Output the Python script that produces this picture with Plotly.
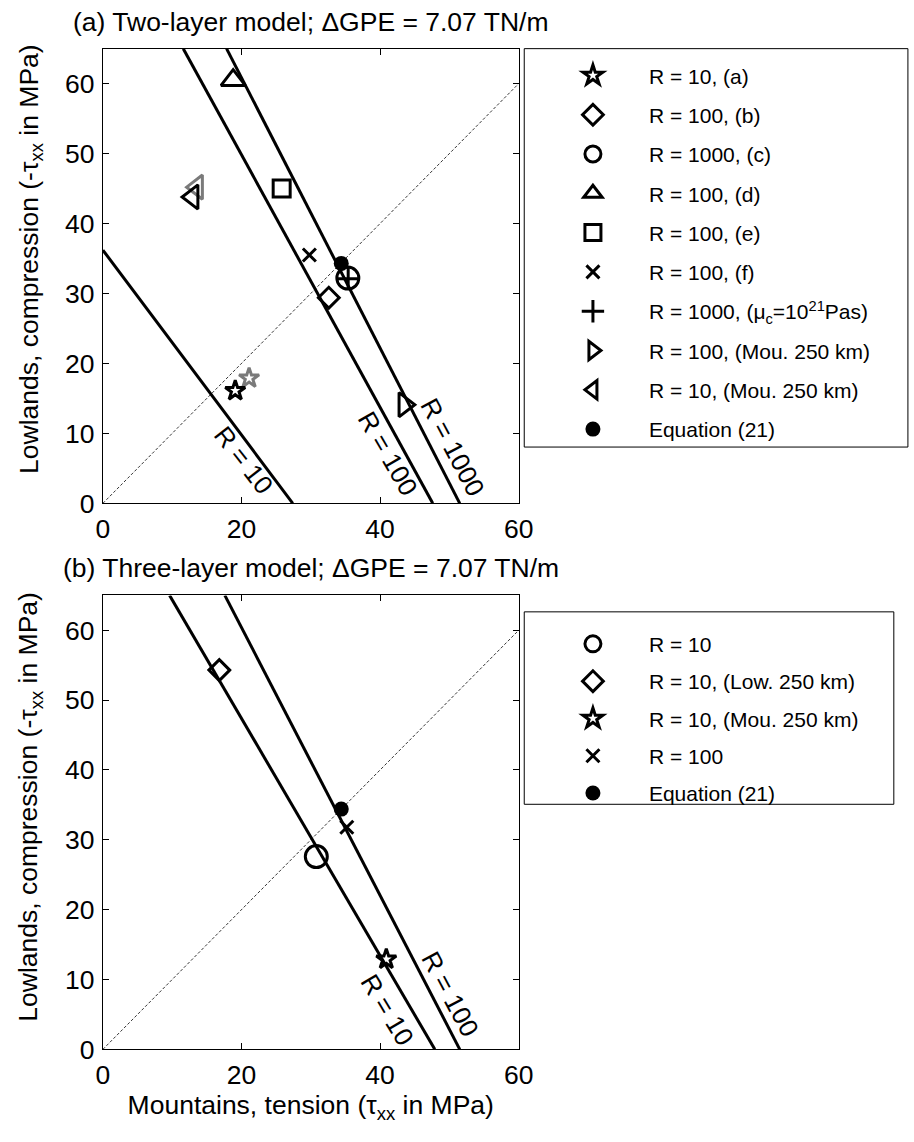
import plotly.graph_objects as go

# ---------------- Panel (a): two-layer model ----------------
a_line_names = ["R = 10", "R = 100", "R = 1000"]
a_line_x = [[0.0, 27.4], [11.6, 47.6], [17.85, 51.5]]
a_line_y = [[36.2, 0.0], [65.0, 0.0], [65.0, 0.0]]
a_label_x = [20.3, 41.2, 50.5]
a_label_y = [6.2, 7.1, 8.1]
a_label_angle = [52, 60, 62]

a_names = ["R = 10, (a)", "R = 100, (b)", "R = 1000, (c)", "R = 100, (d)", "R = 100, (e)",
           "R = 100, (f)", "R = 1000, (μ<sub>c</sub>=10<sup>21</sup>Pas)",
           "R = 100, (Mou. 250 km)", "R = 10, (Mou. 250 km)", "Equation (21)"]
a_x = [19.1, 32.6, 35.35, 18.8, 25.8, 29.8, 35.4, 43.5, 12.95, 34.4]
a_y = [16.1, 29.4, 32.2, 60.5, 45.0, 35.5, 32.1, 14.1, 43.8, 34.3]
a_symbols = ["star-open", "diamond-open", "circle-open", "triangle-up-open", "square-open",
             "x-thin-open", "cross-thin-open", "triangle-right-open", "triangle-left-open", "circle"]
a_sizes = [15, 16, 22, 21, 17, 13, 16, 21, 21, 15]

# grey (unlabelled) companion runs in panel (a)
a_grey_x = [21.1, 13.6]
a_grey_y = [17.9, 45.2]
a_grey_symbols = ["star-open", "triangle-left-open"]
a_grey_sizes = [15, 21]

# ---------------- Panel (b): three-layer model ----------------
b_line_names = ["R = 10", "R = 100"]
b_line_x = [[9.63, 47.9], [17.6, 51.5]]
b_line_y = [[65.0, 0.0], [65.0, 0.0]]
b_label_x = [41.1, 50.1]
b_label_y = [5.7, 7.9]
b_label_angle = [59, 62]

b_names = ["R = 10", "R = 10, (Low. 250 km)", "R = 10, (Mou. 250 km)", "R = 100", "Equation (21)"]
b_x = [30.8, 16.8, 40.9, 35.2, 34.4]
b_y = [27.6, 54.3, 12.9, 31.8, 34.4]
b_symbols = ["circle-open", "diamond-open", "star-open", "x-thin-open", "circle"]
b_sizes = [22, 16, 15, 13, 15]

diag = [0, 60]
x_ticks = [0, 20, 40, 60]
y_ticks = [0, 10, 20, 30, 40, 50, 60]

FONT = "Liberation Sans, Arial, Helvetica, sans-serif"
FS = 26.5
fig = go.Figure()


def add_panel(xa, ya, lx, ly, markers_x, markers_y, names, symbols, sizes, legend_name):
    fig.add_trace(go.Scatter(x=diag, y=diag, mode="lines", xaxis=xa, yaxis=ya,
                             line=dict(color="black", width=0.8, dash="3px,2px"),
                             showlegend=False, hoverinfo="skip"))
    for xs, ys in zip(lx, ly):
        fig.add_trace(go.Scatter(x=xs, y=ys, mode="lines", xaxis=xa, yaxis=ya,
                                 line=dict(color="black", width=3),
                                 showlegend=False, hoverinfo="skip"))
    for i, (mx, my, nm, sy, sz) in enumerate(zip(markers_x, markers_y, names, symbols, sizes)):
        fig.add_trace(go.Scatter(x=[mx], y=[my], mode="markers", name=nm, xaxis=xa, yaxis=ya,
                                 legend=legend_name, legendgroup=legend_name + str(i),
                                 marker=dict(symbol=sy, size=sz, color="black",
                                             line=dict(color="black", width=3 if sy != "circle" else 0))))


# grey markers first so black ones draw on top
for gx, gy, gs, gz in zip(a_grey_x, a_grey_y, a_grey_symbols, a_grey_sizes):
    fig.add_trace(go.Scatter(x=[gx], y=[gy], mode="markers", xaxis="x", yaxis="y",
                             showlegend=False,
                             marker=dict(symbol=gs, size=gz, color="#7a7a7a",
                                         line=dict(color="#7a7a7a", width=3))))

add_panel("x", "y", a_line_x, a_line_y, a_x, a_y, a_names, a_symbols, a_sizes, "legend")
add_panel("x2", "y2", b_line_x, b_line_y, b_x, b_y, b_names, b_symbols, b_sizes, "legend2")

axis_common = dict(showline=True, linecolor="black", linewidth=1, mirror="ticks",
                   ticks="inside", ticklen=6, tickcolor="black", showgrid=False,
                   zeroline=False, ticklabelstandoff=2,
                   tickfont=dict(family=FONT, size=FS, color="black"))

ytitle = "Lowlands, compression (-τ<sub>xx</sub> in MPa)"
xtitle = "Mountains, tension (τ<sub>xx</sub> in MPa)"

fig.update_layout(
    width=914, height=1142, margin=dict(l=0, r=0, t=0, b=0),
    paper_bgcolor="white", plot_bgcolor="white",
    font=dict(family=FONT, color="black"),
    xaxis=dict(domain=[0.1075, 0.5736], range=[0, 60], tickvals=x_ticks, anchor="y", **axis_common),
    yaxis=dict(domain=[0.5534, 0.9568], range=[0, 65], tickvals=y_ticks, anchor="x", **axis_common),
    xaxis2=dict(domain=[0.1075, 0.5736], range=[0, 60], tickvals=x_ticks, anchor="y2",
                title=dict(text=xtitle, font=dict(family=FONT, size=FS), standoff=2), **axis_common),
    yaxis2=dict(domain=[0.0689, 0.4717], range=[0, 65], tickvals=y_ticks, anchor="x2", **axis_common),
    legend=dict(x=543 / 914, y=1 - 56 / 1142, xanchor="left", yanchor="top",
                bgcolor="rgba(0,0,0,0)", borderwidth=0, font=dict(family=FONT, size=21),
                itemwidth=102, tracegroupgap=9, traceorder="grouped"),
    legend2=dict(x=543 / 914, y=1 - 632 / 1142, xanchor="left", yanchor="top",
                 bgcolor="rgba(0,0,0,0)", borderwidth=0, font=dict(family=FONT, size=21),
                 itemwidth=102, tracegroupgap=7, traceorder="grouped"),
    shapes=[
        dict(type="rect", xref="paper", yref="paper", x0=530 / 914, x1=1.01,
             y0=1 - 453 / 1142, y1=1 - 49.3 / 1142, line=dict(color="black", width=1)),
        dict(type="rect", xref="paper", yref="paper", x0=530 / 914, x1=908.7 / 914,
             y0=1 - 815 / 1142, y1=1 - 620 / 1142, line=dict(color="black", width=1)),
    ],
)

annotations = [
    dict(text="(a) Two-layer model; ΔGPE = 7.07 TN/m", xref="x domain", yref="paper",
         x=0.5, y=1 - 22 / 1142, xanchor="center", yanchor="middle", showarrow=False,
         font=dict(family=FONT, size=FS)),
    dict(text="(b) Three-layer model; ΔGPE = 7.07 TN/m", xref="x2 domain", yref="paper",
         x=0.5, y=1 - 576 / 1142, xanchor="center", yanchor="middle", showarrow=False,
         font=dict(family=FONT, size=FS)),
    dict(text=ytitle, xref="paper", yref="paper", x=24 / 914, y=1 - 262 / 1142,
         xanchor="center", yanchor="middle", textangle=-90, showarrow=False,
         font=dict(family=FONT, size=FS)),
    dict(text=ytitle, xref="paper", yref="paper", x=24 / 914, y=1 - 817 / 1142,
         xanchor="center", yanchor="middle", textangle=-90, showarrow=False,
         font=dict(family=FONT, size=FS)),
]
for t, x, y, ang in zip(a_line_names, a_label_x, a_label_y, a_label_angle):
    annotations.append(dict(text=t, x=x, y=y, xref="x", yref="y", textangle=ang,
                            showarrow=False, xanchor="center", yanchor="middle",
                            font=dict(family=FONT, size=26)))
for t, x, y, ang in zip(b_line_names, b_label_x, b_label_y, b_label_angle):
    annotations.append(dict(text=t, x=x, y=y, xref="x2", yref="y2", textangle=ang,
                            showarrow=False, xanchor="center", yanchor="middle",
                            font=dict(family=FONT, size=26)))
fig.update_layout(annotations=annotations)

# remove the browser's default 8px body margin so the figure sits at the page origin
fig.write_html("out.html", config={"displayModeBar": False},
               post_script="document.body.style.margin='0';")
